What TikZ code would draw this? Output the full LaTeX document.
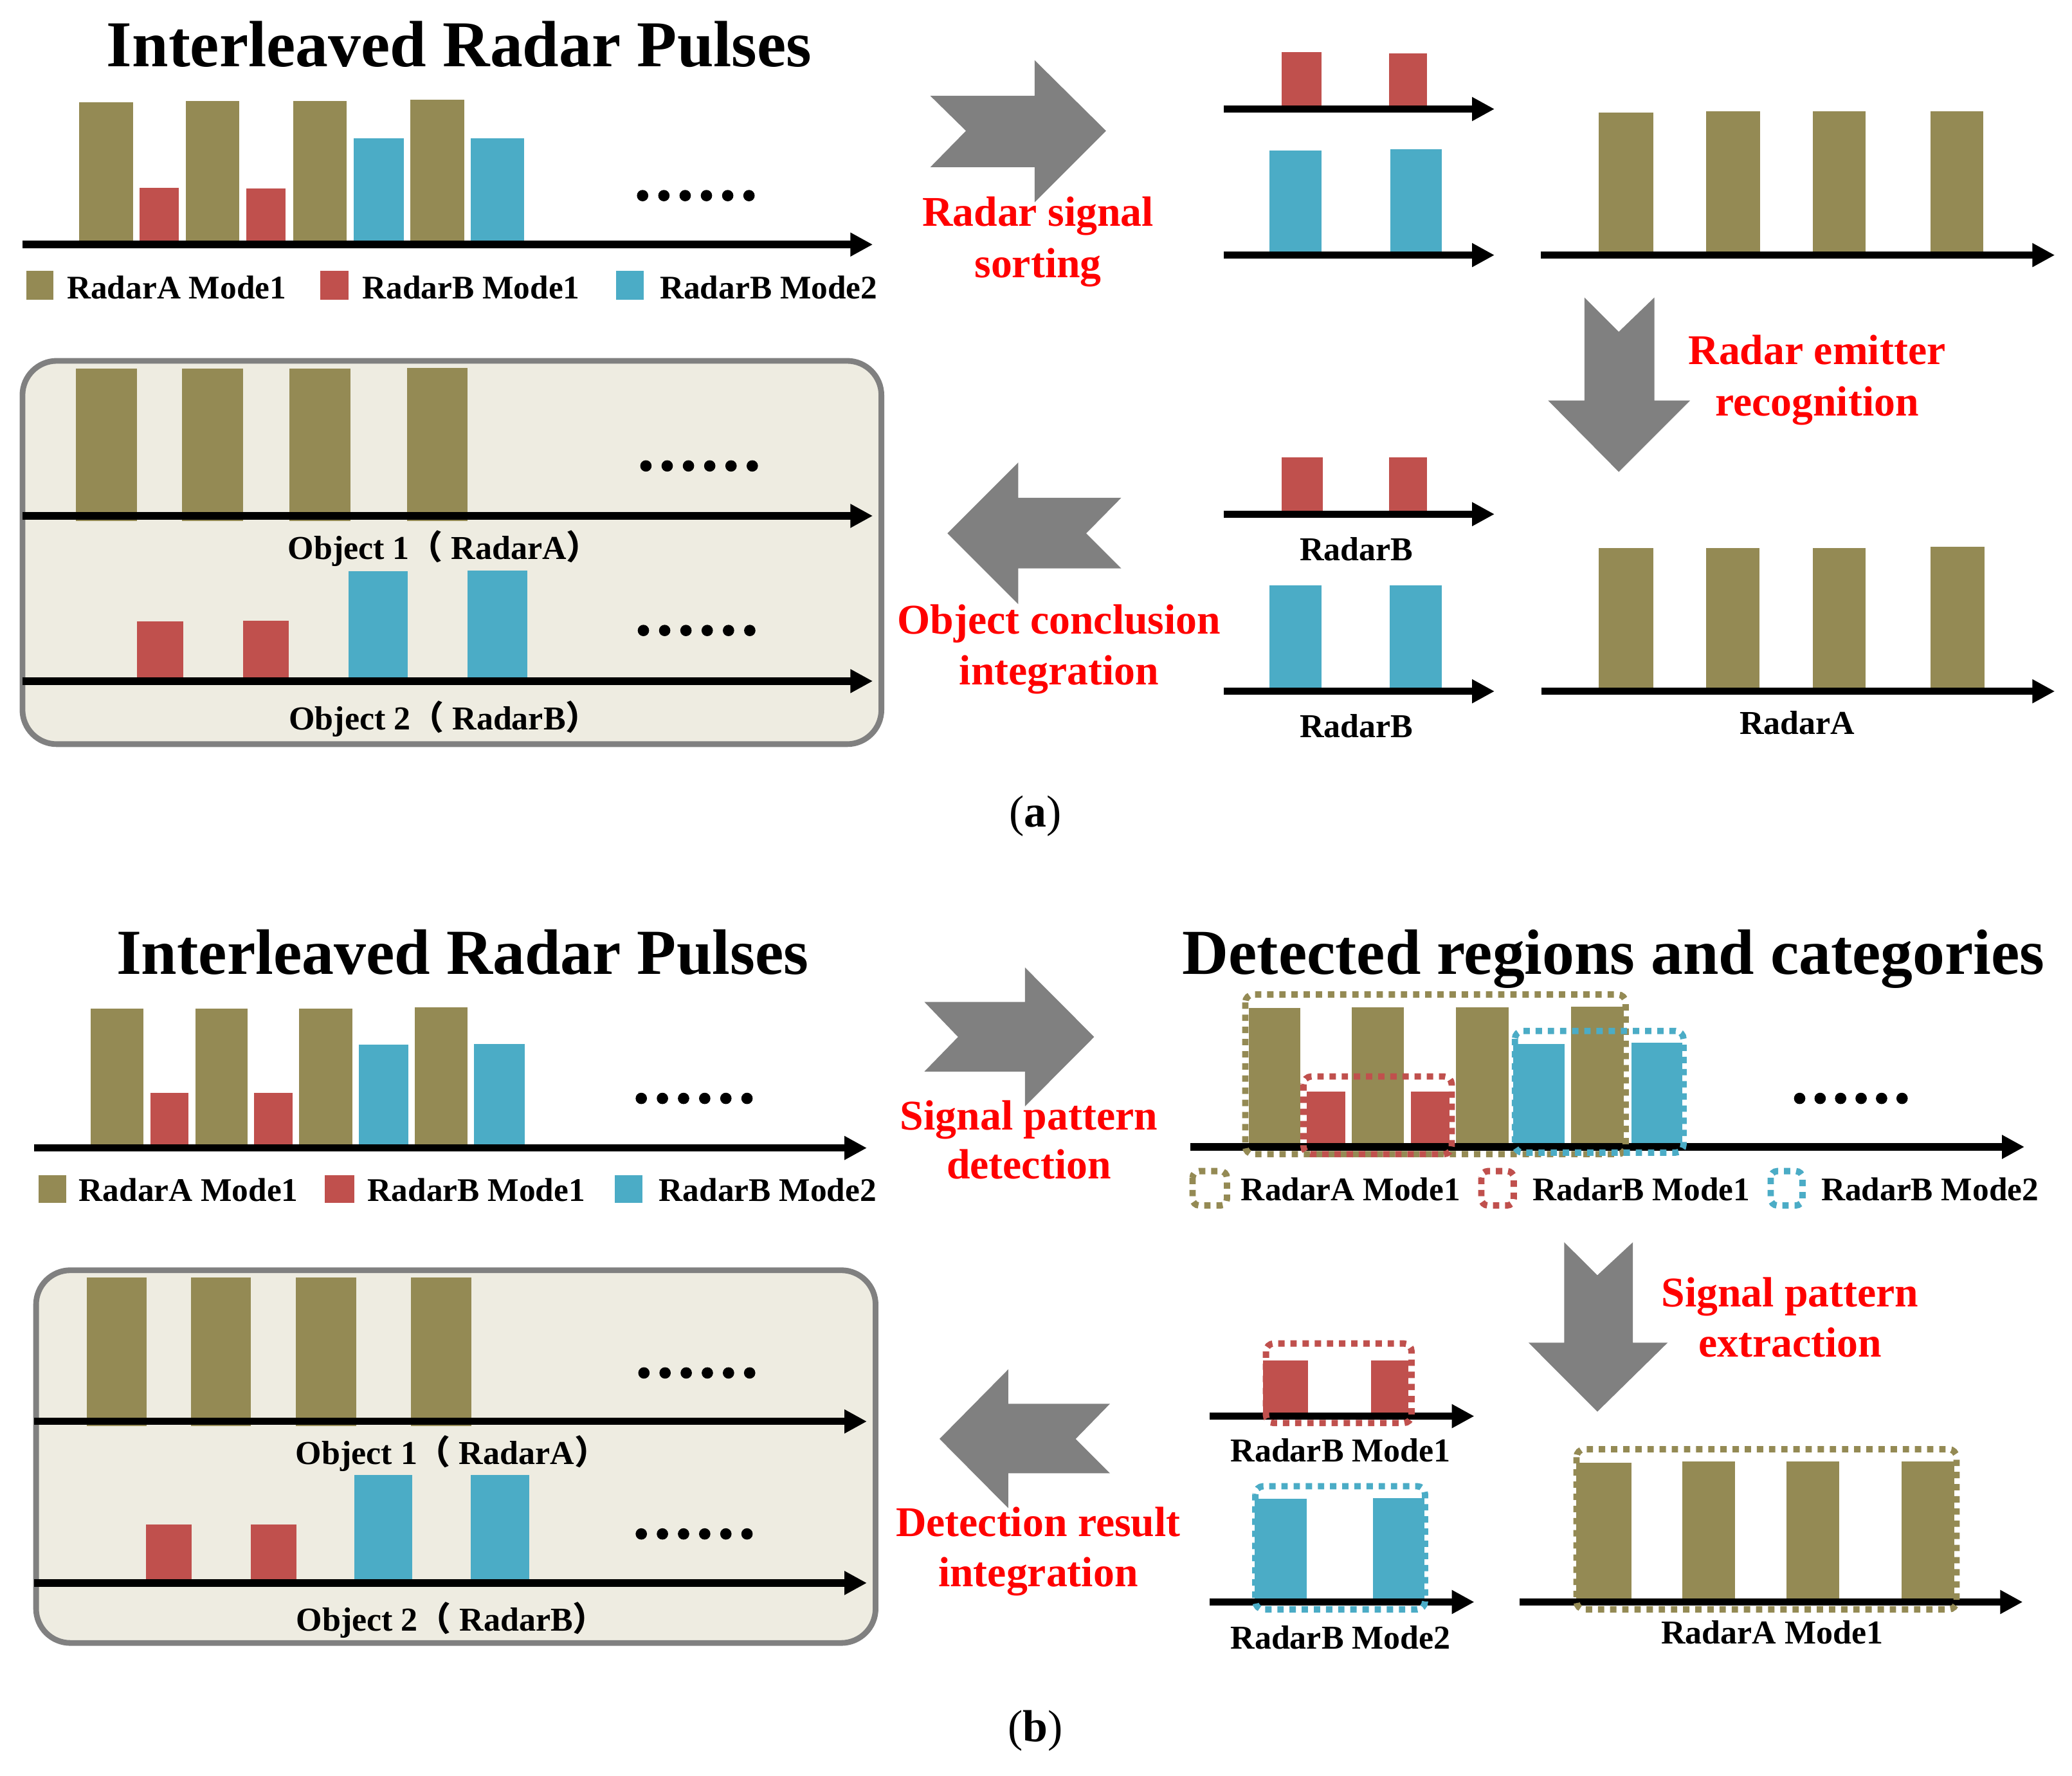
\documentclass[tikz,border=0pt]{standalone}
\usepackage{fontspec}
\setmainfont{Liberation Serif}
\newfontfamily\cjk{Noto Sans CJK SC}
\usetikzlibrary{arrows.meta}
\definecolor{olv}{RGB}{148,138,84}
\definecolor{rdb}{RGB}{192,80,77}
\definecolor{blb}{RGB}{75,172,198}
\definecolor{agray}{RGB}{128,128,128}
\definecolor{tanbg}{RGB}{238,236,225}
\definecolor{lred}{RGB}{255,0,0}
\newcommand\pbar[5]{\fill[#1] (#2,#4) rectangle (#3,#5);}
\newcommand\sixdots[3]{\foreach \k in {0,...,5}{\fill (#1+4.3+\k*#3,#2) circle [radius=4.3pt];}}
\tikzset{
 axisline/.style={line width=5.5pt, -{Triangle[length=17pt,width=17pt]}},
 bigarrow/.style={fill=agray},
 panelbox/.style={draw=agray, fill=tanbg, line width=4.3pt, rounded corners=26pt},
 dbox/.style={line width=4.8pt, dash pattern=on 4.8pt off 4.4pt, rounded corners=6pt},
 ttl/.style={font=\bfseries\fontsize{49.5}{55}\selectfont, inner sep=0pt, anchor=base},
 ttlb/.style={font=\bfseries\fontsize{48.6}{55}\selectfont, inner sep=0pt, anchor=base},
 leg/.style={font=\bfseries\fontsize{25}{28}\selectfont, inner sep=0pt, anchor=base west},
 lab/.style={font=\bfseries\fontsize{25.3}{28}\selectfont, inner sep=0pt, anchor=base},
 objlab/.style={font=\bfseries\fontsize{25.3}{28}\selectfont, inner sep=0pt, anchor=base west},
 redlab/.style={font=\bfseries\fontsize{32}{39}\selectfont, text=lred, inner sep=0pt, anchor=base},
 subcap/.style={font=\fontsize{34}{38}\selectfont, inner sep=0pt, anchor=base},
}
\begin{document}
\begin{tikzpicture}[x=1pt,y=-1pt]
\useasboundingbox[fill=white] (0,0) rectangle (1568,1343.2);

%%%%%%%%%%%%%%%% (a) %%%%%%%%%%%%%%%%
\node[ttl] (ta) at (347.5,50.6) {Interleaved Radar Pulses};
% interleaved pulses
\pbar{olv}{60}{100.8}{77.4}{185}
\pbar{rdb}{105.6}{135.2}{142}{185}
\pbar{olv}{140.8}{181.2}{76.4}{185}
\pbar{rdb}{186.4}{216}{142.6}{185}
\pbar{olv}{222}{262.5}{76.4}{185}
\pbar{blb}{267.7}{305.5}{104.6}{185}
\pbar{olv}{310.7}{351.6}{75.4}{185}
\pbar{blb}{356.4}{396.4}{104.6}{185}
\coordinate (a1s) at (17,185); \coordinate (a1e) at (660.5,185);
\draw[axisline] (a1s) -- (a1e);
\sixdots{482}{148}{16.1}
% legend
\fill[olv] (20,205) rectangle (40.5,227);
\fill[rdb] (242.5,205) rectangle (263.8,227);
\fill[blb] (466,205) rectangle (487.2,227);
\node[leg] (la1) at (50.5,226) {RadarA Mode1};
\node[leg] (la2) at (274,226) {RadarB Mode1};
\node[leg] (la3) at (499.2,226) {RadarB Mode2};

% object box
\draw[panelbox] (17,273) rectangle (667,563);
\pbar{olv}{57.3}{103.8}{279}{394}
\pbar{olv}{137.8}{183.8}{279}{394}
\pbar{olv}{219}{265}{279}{394}
\pbar{olv}{308}{354}{278.3}{394}
\coordinate (ab1s) at (17,390.3); \coordinate (ab1e) at (660.5,390.3);
\draw[axisline] (ab1s) -- (ab1e);
\sixdots{484.5}{352.5}{16.1}
\node[objlab] (oa1) at (217.7,423.1) {Object 1{\cjk （} RadarA{\cjk ）}};
\pbar{rdb}{103.8}{138.6}{470}{515.3}
\pbar{rdb}{183.8}{218.6}{469.6}{515.3}
\pbar{blb}{263.8}{308.5}{432}{515.3}
\pbar{blb}{354}{399}{431.6}{515.3}
\coordinate (ab2s) at (17,515.3); \coordinate (ab2e) at (660.5,515.3);
\draw[axisline] (ab2s) -- (ab2e);
\sixdots{482.6}{477}{16.1}
\node[objlab] (oa2) at (218.5,552.2) {Object 2{\cjk （} RadarB{\cjk ）}};

% sorting arrow
\fill[bigarrow] (704,72.5) -- (783,72.5) -- (783,45.6) -- (837,99) -- (783,153) -- (783,126.5) -- (704,126.5) -- (731,99) -- cycle;
\node[redlab] (rs1) at (785.5,171) {Radar signal};
\node[redlab] (rs2) at (785.5,210) {sorting};

% sorted trains
\pbar{rdb}{970}{1000}{39.3}{82.5}
\pbar{rdb}{1051}{1080}{40.3}{82.5}
\coordinate (s1s) at (926,82.5); \coordinate (s1e) at (1131,82.5);
\draw[axisline] (s1s) -- (s1e);
\pbar{blb}{960.5}{1000}{114}{193}
\pbar{blb}{1052}{1091}{113}{193}
\coordinate (s2s) at (926,193); \coordinate (s2e) at (1131,193);
\draw[axisline] (s2s) -- (s2e);
\pbar{olv}{1210}{1251}{85}{193}
\pbar{olv}{1291}{1332}{84}{193}
\pbar{olv}{1372}{1412}{84}{193}
\pbar{olv}{1461}{1501}{84}{193}
\coordinate (s3s) at (1166,193); \coordinate (s3e) at (1555,193);
\draw[axisline] (s3s) -- (s3e);

% recognition arrow
\fill[bigarrow] (1199,225) -- (1225,251) -- (1252,225) -- (1252,303) -- (1279,303) -- (1225,357) -- (1171.5,303) -- (1199,303) -- cycle;
\node[redlab] (re1) at (1375,275.7) {Radar emitter};
\node[redlab] (re2) at (1375,314.4) {recognition};

% recognised trains
\pbar{rdb}{970}{1001}{346}{389}
\pbar{rdb}{1051}{1080}{346}{389}
\coordinate (r1s) at (926,389); \coordinate (r1e) at (1131,389);
\draw[axisline] (r1s) -- (r1e);
\node[lab] (rb1) at (1026.5,424) {RadarB};
\pbar{blb}{960.5}{1000}{443}{523}
\pbar{blb}{1051.5}{1091}{443}{523}
\coordinate (r2s) at (926,523); \coordinate (r2e) at (1131,523);
\draw[axisline] (r2s) -- (r2e);
\node[lab] (rb2) at (1026.5,558) {RadarB};
\pbar{olv}{1210}{1251}{414.6}{523}
\pbar{olv}{1291}{1331.5}{414.6}{523}
\pbar{olv}{1372}{1412}{414.6}{523}
\pbar{olv}{1461}{1502}{413.6}{523}
\coordinate (r3s) at (1166.5,523); \coordinate (r3e) at (1555,523);
\draw[axisline] (r3s) -- (r3e);
\node[lab] (ra1) at (1360,555.7) {RadarA};

% integration arrow
\fill[bigarrow] (770.5,350) -- (770.5,376.6) -- (848.5,376.6) -- (822,403.5) -- (848.5,430) -- (770.5,430) -- (770.5,457) -- (717,403.5) -- cycle;
\node[redlab] (oc1) at (801.5,479.5) {Object conclusion};
\node[redlab] (oc2) at (801.5,518) {integration};

\node[subcap] (capa) at (783.5,625.5) {({\bfseries a})};

%%%%%%%%%%%%%%%% (b) %%%%%%%%%%%%%%%%
\node[ttlb] (tb) at (350,737) {Interleaved Radar Pulses};
\pbar{olv}{68.7}{108.7}{763}{868.5}
\pbar{rdb}{114}{142.5}{826.8}{868.5}
\pbar{olv}{147.7}{187.3}{763}{868.5}
\pbar{rdb}{192}{221.6}{826.8}{868.5}
\pbar{olv}{226.4}{266.8}{763}{868.5}
\pbar{blb}{271.6}{309}{790.4}{868.5}
\pbar{olv}{313.7}{353.7}{762}{868.5}
\pbar{blb}{358.5}{397}{790}{868.5}
\coordinate (b1s) at (26,868.5); \coordinate (b1e) at (656,868.5);
\draw[axisline] (b1s) -- (b1e);
\sixdots{481}{831}{16}
\fill[olv] (29,889) rectangle (50,910);
\fill[rdb] (246,889) rectangle (268,910);
\fill[blb] (465,889) rectangle (486,910);
\node[leg] (lb1) at (59.5,909) {RadarA Mode1};
\node[leg] (lb2) at (278,909) {RadarB Mode1};
\node[leg] (lb3) at (498.5,909) {RadarB Mode2};

\draw[panelbox] (27.3,961) rectangle (662.6,1243);
\pbar{olv}{65.6}{110.8}{966.4}{1078.7}
\pbar{olv}{144.7}{189.9}{966.4}{1078.7}
\pbar{olv}{224}{269.4}{966.4}{1078.7}
\pbar{olv}{311}{356.8}{966.4}{1078.7}
\coordinate (bb1s) at (26,1075.4); \coordinate (bb1e) at (656,1075.4);
\draw[axisline] (bb1s) -- (bb1e);
\sixdots{483}{1038.7}{16}
\node[objlab] (ob1) at (223.6,1108) {Object 1{\cjk （} RadarA{\cjk ）}};
\pbar{rdb}{110.3}{145}{1153.4}{1197.6}
\pbar{rdb}{190}{224.3}{1153.4}{1197.6}
\pbar{blb}{268}{312}{1116}{1197.6}
\pbar{blb}{356}{400.6}{1116}{1197.6}
\coordinate (bb2s) at (26,1197.6); \coordinate (bb2e) at (656,1197.6);
\draw[axisline] (bb2s) -- (bb2e);
\sixdots{481}{1160.5}{16}
\node[objlab] (ob2) at (224,1234) {Object 2{\cjk （} RadarB{\cjk ）}};

% detection arrow
\fill[bigarrow] (699.5,758) -- (775.7,758) -- (775.7,732) -- (828,784.5) -- (775.7,837) -- (775.7,810.7) -- (699.5,810.7) -- (725,784.5) -- cycle;
\node[redlab] (sp1) at (778.6,854.6) {Signal pattern};
\node[redlab] (sp2) at (778.6,891.8) {detection};

% detected regions
\node[ttlb,font=\bfseries\fontsize{48.5}{55}\selectfont] (td) at (1221,737) {Detected regions and categories};
\pbar{olv}{945}{984}{762.5}{867.7}
\pbar{rdb}{989}{1018}{826}{867.7}
\pbar{olv}{1023}{1062.5}{762}{867.7}
\pbar{rdb}{1067.6}{1097}{826}{867.7}
\pbar{olv}{1102}{1141.5}{762}{867.7}
\pbar{blb}{1145}{1184}{789.6}{867.7}
\pbar{olv}{1189}{1229}{761.4}{867.7}
\pbar{blb}{1234.6}{1273}{789}{867.7}
\coordinate (d1s) at (900.7,867.7); \coordinate (d1e) at (1532,867.7);
\draw[axisline] (d1s) -- (d1e);
\sixdots{1357.6}{831}{15.5}
\draw[dbox,olv] (942.4,752.4) rectangle (1230.2,873.2);
\draw[dbox,rdb] (986.4,814.4) rectangle (1098.6,873.2);
\draw[dbox,blb] (1146.4,780) rectangle (1274,872);
% legend
\draw[dbox,olv,rounded corners=5pt] (902.5,886) rectangle (928.5,912);
\draw[dbox,rdb,rounded corners=5pt] (1121,886) rectangle (1145.5,912);
\draw[dbox,blb,rounded corners=5pt] (1340,886) rectangle (1364,912);
\node[leg] (ld1) at (939,908.5) {RadarA Mode1};
\node[leg] (ld2) at (1159.5,908.5) {RadarB Mode1};
\node[leg] (ld3) at (1378,908.5) {RadarB Mode2};

% extraction arrow
\fill[bigarrow] (1183.7,939.8) -- (1208.8,964.8) -- (1235.7,939.8) -- (1235.7,1015.8) -- (1262,1015.8) -- (1208.8,1068) -- (1156.7,1015.8) -- (1183.7,1015.8) -- cycle;
\node[redlab] (se1) at (1354.6,988.7) {Signal pattern};
\node[redlab] (se2) at (1354.6,1026.7) {extraction};

% extracted trains
\pbar{rdb}{955.6}{990}{1029.5}{1071.4}
\pbar{rdb}{1037.4}{1066}{1029.5}{1071.4}
\coordinate (e1s) at (915.6,1071.4); \coordinate (e1e) at (1115.7,1071.4);
\draw[axisline] (e1s) -- (e1e);
\draw[dbox,rdb] (958,1016.4) rectangle (1068.2,1076.6);
\node[lab] (eb1) at (1014.5,1106) {RadarB Mode1};
\pbar{blb}{949.4}{989}{1134}{1212}
\pbar{blb}{1039}{1078}{1133.6}{1212}
\coordinate (e2s) at (915.6,1212); \coordinate (e2e) at (1115.7,1212);
\draw[axisline] (e2s) -- (e2e);
\draw[dbox,blb] (950,1124.4) rectangle (1078.4,1217.6);
\node[lab] (eb2) at (1014.5,1247.3) {RadarB Mode2};
\pbar{olv}{1192.8}{1234.5}{1106.6}{1212}
\pbar{olv}{1273}{1313}{1105.5}{1212}
\pbar{olv}{1352}{1392}{1105.5}{1212}
\pbar{olv}{1439}{1479}{1105.5}{1212}
\coordinate (e3s) at (1150,1212); \coordinate (e3e) at (1530.7,1212);
\draw[axisline] (e3s) -- (e3e);
\draw[dbox,olv] (1193,1096.4) rectangle (1480.6,1217.6);
\node[lab] (ea1) at (1341,1243.4) {RadarA Mode1};

% integration arrow
\fill[bigarrow] (763,1036) -- (763,1062) -- (840,1062) -- (814,1088.6) -- (840,1114.6) -- (763,1114.6) -- (763,1141) -- (711,1088.6) -- cycle;
\node[redlab] (dr1) at (785.6,1162.5) {Detection result};
\node[redlab] (dr2) at (785.6,1200.5) {integration};

\node[subcap] (capb) at (783.5,1317.5) {({\bfseries b})};
\end{tikzpicture}
\end{document}
